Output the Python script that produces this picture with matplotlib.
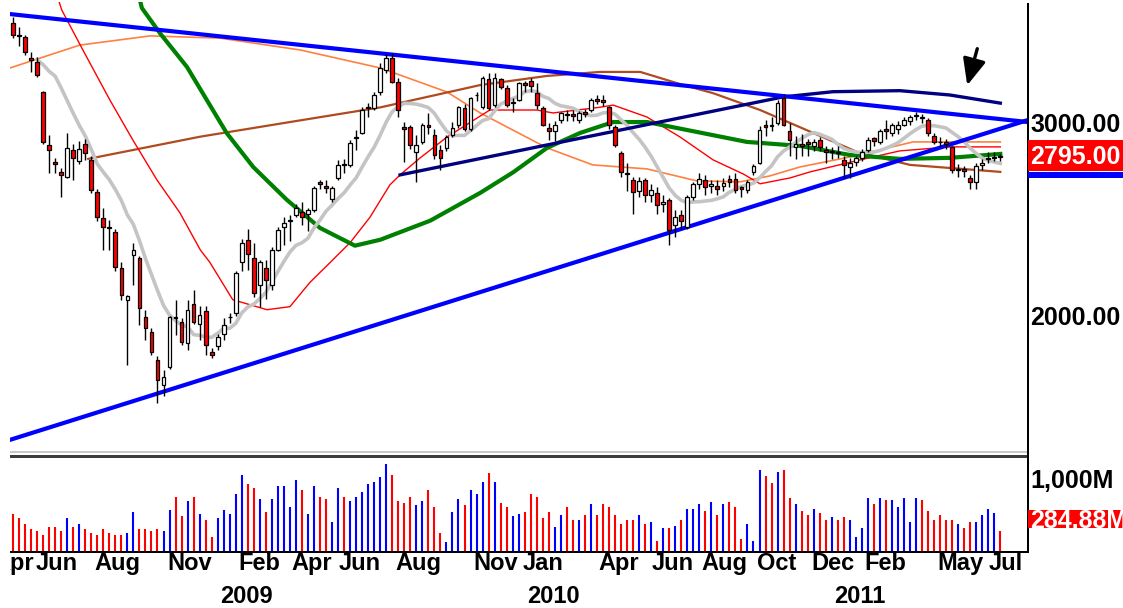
import numpy as np
import matplotlib
matplotlib.use("Agg")
import matplotlib.pyplot as plt
from matplotlib.patches import Rectangle, FancyArrowPatch
from matplotlib.collections import LineCollection
from matplotlib.transforms import (IdentityTransform, blended_transform_factory,
                                   offset_copy, Bbox)
from matplotlib.ticker import NullLocator

# ---------------- data (weekly bars, index 0 = first visible week) ----------------
opens = [3700,3610,3595,3440,3410,3200,2865,2765,2707,2680,
         2835,2770,2870,2776,2596,2458,2410,2387,2213,2069,
         2274,2260,1995,1934,1823,1731,1797,1995,1975,1890,
         2050,1965,2020,1855,1878,1925,1995,2010,2240,2347,
         2260,2134,2213,2134,2298,2413,2440,2474,2490,2480,
         2500,2650,2630,2558,2673,2755,2747,2905,2940,3095,
         3095,3202,3354,3440,3270,2975,2975,2823,2883,2990,
         2925,2835,2847,2925,2987,3095,2960,3180,3101,3290,
         3115,3290,3230,3130,3148,3260,3276,3196,3095,2968,
         2950,3019,3060,3055,3019,3070,3083,3155,3150,3100,
         2975,2817,2700,2662,2600,2660,2579,2590,2530,2552,
         2420,2470,2410,2570,2640,2660,2630,2630,2630,2665,
         2667,2620,2607,2705,2760,2985,2990,3000,3160,2950,
         2855,2870,2885,2860,2895,2835,2825,2820,2776,2735,
         2765,2790,2835,2905,2880,2965,2940,2960,2990,3010,
         3045,3035,3020,2920,2885,2880,2850,2720,2725,2670,
         2650,2745,2780,2790,2800]
highs = [3750,3668,3610,3480,3450,3210,2925,2790,2730,2940,
         2870,2890,2900,2800,2610,2510,2448,2400,2240,2090,
         2333,2270,2026,1950,1840,1786,2000,2069,1990,2069,
         2112,2040,2040,1870,1925,1990,2010,2200,2350,2402,
         2330,2250,2250,2310,2410,2460,2470,2530,2540,2510,
         2630,2660,2660,2630,2776,2780,2895,2956,3100,3130,
         3200,3400,3470,3478,3300,3005,2990,2925,3000,3063,
         2960,2865,2925,3005,3110,3120,3170,3200,3310,3330,
         3330,3300,3250,3160,3270,3280,3300,3260,3110,3000,
         3010,3070,3080,3080,3075,3090,3160,3180,3181,3110,
         2990,2830,2760,2680,2680,2670,2640,2620,2580,2560,
         2500,2500,2580,2650,2700,2690,2660,2660,2670,2690,
         2700,2630,2660,2750,2980,3020,3040,3150,3186,3000,
         2920,2930,2900,2900,2910,2860,2850,2860,2800,2790,
         2800,2840,2910,2910,2960,3020,3000,3010,3040,3050,
         3067,3060,3030,2935,2910,2900,2860,2750,2740,2690,
         2760,2780,2820,2820,2810]
lows = [3590,3525,3461,3340,3305,2870,2700,2700,2570,2670,
        2662,2750,2776,2590,2440,2298,2298,2200,2069,1802,
        2134,1962,1901,1843,1664,1690,1790,1921,1882,1862,
        1965,1900,1843,1830,1860,1900,1970,2000,2200,2203,
        2080,2037,2070,2112,2290,2323,2340,2460,2420,2390,
        2490,2610,2590,2540,2660,2700,2735,2835,2930,3040,
        3080,3180,3330,3260,3040,2765,2840,2650,2870,2930,
        2780,2718,2830,2910,2970,2950,2950,3140,3090,3080,
        3100,3220,3100,3070,3140,3200,3200,3090,2980,2895,
        2890,3000,3010,3010,3000,3040,3070,3120,3110,2960,
        2850,2680,2600,2480,2570,2540,2540,2480,2490,2319,
        2360,2400,2400,2550,2610,2580,2590,2580,2600,2620,
        2590,2570,2590,2690,2750,2920,2950,2990,2980,2800,
        2780,2800,2800,2830,2830,2760,2780,2790,2673,2670,
        2740,2770,2820,2860,2870,2900,2920,2930,2980,2990,
        3020,3000,2920,2870,2850,2840,2700,2680,2680,2610,
        2610,2720,2760,2770,2770]
closes = [3610,3600,3480,3424,3319,2880,2835,2755,2690,2847,
          2788,2841,2817,2607,2463,2413,2405,2217,2090,2085,
          2298,2035,1950,1855,1748,1760,1995,1990,1893,2026,
          1975,2005,1880,1843,1914,1962,1997,2190,2333,2279,
          2099,2240,2157,2298,2397,2433,2448,2510,2464,2500,
          2618,2640,2615,2618,2747,2745,2877,2910,3083,3101,
          3182,3368,3438,3270,3080,2960,2865,2865,2987,2975,
          2805,2788,2913,2968,3101,2960,3162,3185,3297,3095,
          3297,3236,3115,3135,3260,3250,3240,3115,2987,2950,
          2987,3063,3050,3045,3063,3060,3148,3145,3135,2987,
          2865,2705,2697,2597,2655,2579,2607,2526,2540,2397,
          2462,2440,2568,2640,2665,2620,2640,2610,2645,2650,
          2607,2612,2650,2738,2956,2975,2978,3130,2990,2895,
          2870,2857,2870,2885,2850,2820,2830,2815,2747,2760,
          2790,2820,2895,2890,2950,2950,2987,2990,3020,3040,
          3050,3030,2935,2880,2880,2870,2718,2725,2710,2650,
          2740,2760,2790,2795,2795]
# volume, millions
volumes = [524,465,377,318,284,230,342,342,289,465,
           342,377,318,259,230,318,259,230,230,259,
           552,318,318,289,318,289,582,758,494,699,
           758,524,435,200,465,582,524,788,1052,934,
           876,729,552,729,905,905,611,993,846,524,
           905,758,729,406,876,758,699,758,817,934,
           964,1022,1199,1052,699,670,758,641,699,846,
           611,259,142,552,729,641,846,788,964,1081,
           964,670,611,494,524,552,788,758,465,552,
           347,504,617,445,445,504,653,504,653,623,
           504,386,445,445,504,386,405,148,326,326,
           356,445,593,593,653,563,682,504,653,682,
           623,178,386,148,1127,1038,949,1097,1127,740,
           653,563,504,593,534,445,475,445,475,445,
           207,326,740,653,740,712,712,623,740,415,
           740,712,563,445,504,445,445,386,326,415,
           415,504,593,534,284.88]
# closes of the weeks before the visible window (feed the 10-week average)
hist_close = [3250, 3300, 3100, 3500, 3700]

# indicator lines: (bar index, price)
red_idx = [7.3, 8.1, 11.6, 16.1, 19.9, 23.9, 27.7, 31.1, 32.7, 36.5, 42.2, 46.0, 49.3,
           52.7, 56.0, 59.3, 62.6, 64.3, 67.6, 72.1, 79.2, 87.0, 89.7, 97.5, 99.7,
           105.3, 110.8, 116.3, 121.3, 124.1, 129.1, 132.4, 140.7, 147.3, 155.6, 164.0]
red_val = [3926, 3804, 3498, 3148, 2895, 2662, 2485, 2298, 2238, 2069, 2026, 2039, 2145,
           2238, 2333, 2461, 2634, 2690, 2787, 2913, 3083, 3083, 3064, 3101, 3115,
           3038, 2913, 2776, 2695, 2640, 2673, 2707, 2776, 2829, 2853, 2853]
orange_idx = [-0.5, 11.1, 22.8, 34.4, 47.7, 61.0, 72.1, 77.6, 88.7, 96.3, 105.3,
              113.6, 120.8, 125.7, 130.7, 139.0, 149.5, 164.0]
orange_val = [3368, 3534, 3603, 3586, 3498, 3368, 3202, 3064, 2847, 2747, 2724,
              2656, 2651, 2684, 2735, 2793, 2883, 2883]
brown_idx = [12.5, 31.1, 46.0, 61.0, 77.6, 88.7, 97.5, 104.2, 110.8, 116.3, 124.1,
             129.1, 140.2, 149.0, 164.0]
brown_val = [2782, 2915, 3006, 3100, 3249, 3312, 3340, 3340, 3256, 3194, 3083,
             3000, 2823, 2747, 2707]
green_idx = [20.3, 21.4, 24.4, 28.9, 32.2, 35.5, 39.9, 45.5, 51.0, 56.8, 61.0, 69.3,
             77.6, 83.1, 88.7, 94.2, 99.7, 105.3, 113.6, 121.9, 130.7, 139.0, 147.3,
             155.6, 164.0]
green_val = [4052, 3821, 3624, 3375, 3148, 2937, 2735, 2552, 2406, 2318, 2347, 2443,
             2590, 2705, 2847, 2938, 3006, 3006, 2944, 2883, 2859, 2805, 2782,
             2788, 2811]
navy_idx = [64.3, 127.9, 136.2, 147.3, 155.6, 164.0]
navy_val = [2690, 3169, 3204, 3211, 3182, 3128]
trend_top_idx = [-0.5, 168.6]
trend_top_val = [3772, 3006]
trend_bot_idx = [-0.5, 168.6]
trend_bot_val = [1541, 3019]

month_labels = ["Apr", "Jun", "Aug", "Nov", "Feb", "Apr", "Jun", "Aug", "Nov", "Jan",
                "Apr", "Jun", "Aug", "Oct", "Dec", "Feb", "May", "Jul"]
month_pos = [-3.3, 3.8, 13.5, 25.7, 37.5, 46.3, 54.1, 63.5, 76.4, 84.7, 97.2, 106.1,
             114.3, 123.6, 132.6, 141.5, 153.5, 162.0]
year_labels = ["2009", "2010", "2011"]
year_pos = [38.7, 89.7, 140.7]
price_ticks = [2000, 3000]
vol_tick = 1000

# ---------------- figure ----------------
W, H = 1123, 608
fig = plt.figure(figsize=(W / 100, H / 100), dpi=100)
fig.patch.set_facecolor("white")
FONT = "Liberation Sans"


def fx(x):
    return x / W


def fy(y):
    return 1 - y / H


axp = fig.add_axes([fx(10), fy(453), 1018 / W, 451 / H])
axv = fig.add_axes([fx(10), fy(552), 1018 / W, 93 / H])
axp.set_yscale("log")
for ax in (axp, axv):
    for s in ax.spines.values():
        s.set_visible(False)
    ax.xaxis.set_major_locator(NullLocator())
    ax.xaxis.set_minor_locator(NullLocator())
    ax.yaxis.set_major_locator(NullLocator())
    ax.yaxis.set_minor_locator(NullLocator())
    ax.set_facecolor("none")
    ax.set_xlim(-0.5, 168.6)
axp.set_ylim(1499, 3869)
axv.set_ylim(0, 1274)

n = len(closes)
idx = np.arange(n)
o = np.array(opens, float)
c = np.array(closes, float)
h = np.maximum(np.array(highs, float), np.maximum(o, c))
l = np.minimum(np.array(lows, float), np.minimum(o, c))
up = c >= o

# moving averages / lines
allc = np.array(hist_close + closes, float)
sma10 = np.convolve(allc, np.ones(10) / 10, mode="valid")
sma_idx = np.arange(len(sma10)) + 9 - len(hist_close)

axp.plot(orange_idx, orange_val, color="#ff8040", lw=1.2, zorder=2)
axp.plot(brown_idx, brown_val, color="#b04a20", lw=1.6, zorder=2)
axp.plot(red_idx, red_val, color="#ff0000", lw=1.0, zorder=2)
axp.plot(green_idx, green_val, color="#008000", lw=3.0, zorder=2)
axp.plot(sma_idx, sma10, color="#c4c4c4", lw=2.6, zorder=2)
axp.plot(navy_idx, navy_val, color="#000080", lw=2.4, zorder=3)
axp.plot(trend_top_idx, trend_top_val, color="#0000ff", lw=3.0, zorder=3)
axp.plot(trend_bot_idx, trend_bot_val, color="#0000ff", lw=3.0, zorder=3)

# candles
wicks = [[(i, l[i]), (i, h[i])] for i in idx]
axp.add_collection(LineCollection(wicks, colors="black", linewidths=1.0, zorder=5))
bw = 0.62
for i in idx:
    lo, hi = min(o[i], c[i]), max(o[i], c[i])
    axp.add_patch(Rectangle((i - bw / 2, lo), bw, hi - lo,
                            facecolor="white" if up[i] else "#ff0000",
                            edgecolor="black", lw=0.9, zorder=6))

# volume
vcol = ["#0000ff" if u else "#ff0000" for u in up]
axv.vlines(idx, 0, volumes, colors=vcol, lw=1.5)


# ---------------- frame pieces ----------------
def rect_px(x0, y0, x1, y1, color):
    fig.add_artist(Rectangle((fx(x0), fy(y1)), (x1 - x0) / W, (y1 - y0) / H,
                             transform=fig.transFigure, facecolor=color,
                             edgecolor="none", lw=0, zorder=10))


rect_px(10, 450.5, 1028, 452.5, "#c8c8c8")
rect_px(10, 454.5, 1028, 457.5, "#3c3c3c")
rect_px(10, 551, 1028, 553, "#000000")
rect_px(1027, 3, 1029, 553, "#000000")

# ---------------- text ----------------
tx = blended_transform_factory(axp.transData, fig.transFigure)
clip = Bbox.from_extents(10, 0, W, H)
for lab, pos in zip(month_labels, month_pos):
    t = fig.text(pos, fy(570), lab, transform=tx, ha="left", va="baseline",
                 fontsize=17, fontweight="bold", family=FONT, color="black")
    t.set_clip_box(clip)
    t.set_clip_on(True)
for lab, pos in zip(year_labels, year_pos):
    fig.text(pos, fy(603), lab, transform=tx, ha="center", va="baseline",
             fontsize=17, fontweight="bold", family=FONT, color="black")

tp = blended_transform_factory(fig.transFigure, axp.transData)
tv = blended_transform_factory(fig.transFigure, axv.transData)
for p in price_ticks:
    fig.text(fx(1030), p, f"{p:.2f}", transform=offset_copy(tp, fig=fig, y=-9, units="dots"),
             ha="left", va="baseline", fontsize=18, fontweight="bold", family=FONT,
             color="black")
fig.text(fx(1030), vol_tick, f"{vol_tick:,}M",
         transform=offset_copy(tv, fig=fig, y=-9, units="dots"),
         ha="left", va="baseline", fontsize=18, fontweight="bold", family=FONT,
         color="black")

# last price box
fig.canvas.draw()
yd = axp.transData.transform((0, closes[-1]))[1]
fig.add_artist(Rectangle((1028, yd - 14.5), 120, 31, transform=IdentityTransform(),
                         facecolor="#ff0000", edgecolor="none", zorder=11))
fig.add_artist(Rectangle((1028, yd - 21.5), 120, 6.5, transform=IdentityTransform(),
                         facecolor="#0000ff", edgecolor="none", zorder=11))
fig.text(fx(1030), closes[-1], f"{closes[-1]:.2f}",
         transform=offset_copy(tp, fig=fig, y=-7, units="dots"),
         ha="left", va="baseline", fontsize=18, fontweight="bold", family=FONT,
         color="white", zorder=12)

# last volume box
yv = axv.transData.transform((0, volumes[-1]))[1]
fig.add_artist(Rectangle((1028, yv + 3), 120, 18.5, transform=IdentityTransform(),
                         facecolor="#ff0000", edgecolor="none", zorder=11))
fig.text(fx(1030), volumes[-1], f"{volumes[-1]:.2f}M",
         transform=offset_copy(tv, fig=fig, y=3.5, units="dots"),
         ha="left", va="baseline", fontsize=18, fontweight="bold", family=FONT,
         color="white", zorder=12)

# arrow annotation
fig.add_artist(FancyArrowPatch((978, H - 46), (966.5, H - 88),
                               transform=IdentityTransform(),
                               arrowstyle="-|>,head_length=0.8,head_width=0.35",
                               mutation_scale=20, lw=2.4, color="black", zorder=12))

fig.savefig("out.png", dpi=100, facecolor="white")
